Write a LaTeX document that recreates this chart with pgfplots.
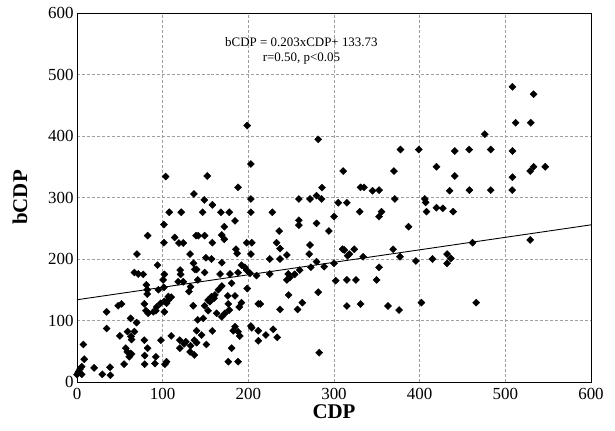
\documentclass[border=0pt]{standalone}
\usepackage{fontspec}
\setmainfont{Liberation Serif}
\usepackage{pgfplots}
\pgfplotsset{compat=1.18}
\usepackage{pgfplotstable}
\pgfplotstableread{
x y
136.5 305.7
107.7 276
121.7 276
101.5 256
82.5 238
114 235
119 226
124 226
139 238
101.5 226.5
70 208
132 208
94 190
67 178
71.5 175.6
77.4 175
102 175
100.5 166
120.5 182
121 175
124 163
118 163
141 166
132.6 155
130.7 147
81 158
82 150
82 143
95 150
101.5 154
106.6 139
110 138
52 127
48 124
34.6 114
78.6 127
80.5 116
83 112
89 114
92 116
93 122
102 114
102 131
97.6 128
104.6 128
106.6 133
135.7 124
62.6 103.5
69.6 96.5
141 101
34.6 87
59 82
67 82
63 74
63.7 69
50 75
78.6 68
82.4 55
98 68
110 75
120 68
125 62
127 65.5
132.6 59
137 68
139.6 64
7.4 61
57 55
58.7 49
62 46.6
63.7 45.5
61 41
79 43
92 41
120 55
132 49
137 44
8.5 37
55 29
79 29
91 30
104.6 33
102.7 29
5.5 25
3.5 21
20 23
38.5 24
1.5 15
5.5 12.5
29.5 12.5
39 11
0 12
2 17
188 316.5
148.6 296
158 288
203 297.6
146.6 276
168 276
177.7 276
203 276
228 276
184.4 262
172 252.5
236 245.5
259 263
259 255
279.6 258
259 297.6
272 297.6
279.6 303
141.6 238
149 238
169 239
172 232
158 226.5
198 226.5
204 226.5
203 208
233 226.5
237 217
185.5 216
187 209
271 208
272 222.8
225 200
237 200
245 206.5
150.5 202
157 200
136 193
137.5 183
139.6 183
149 178
169 194
167 175.6
178.6 175.6
188 177.7
192 190
196 186.5
198 182
202 176.7
209.6 173
225 175.6
246.6 175.6
248.5 170
254 175
260 182
273 186.5
279.6 195.6
245 166
180.5 160.5
169 156
165 150
161 141.5
157 138.7
153 133
149 124
160 136
155 130.6
176 140
184.4 140
192 129
189.4 122
176.6 127
177.7 117
172.7 111.7
169 106
163 111.7
153 116
198.7 152
211.6 127
214 127
247 141.5
263 129
257.5 118
237 118
281.6 146
147.4 103.5
158 83
139.6 83.4
145.4 76.4
151 61
184.4 90
182.4 83.4
188 81.8
190 74.8
203 91
204 88
211.6 83.4
211.6 67
220.5 76.4
229 85.7
233.7 72.7
180.5 55
176.6 33
188 33
282.7 47.6
286 316
331 316.5
335 316.5
345 311
352.6 312
371 297.6
406 297.6
407 292
408 277
419.6 283.4
427 282.4
435 311
285.5 297.6
305 291.5
315 291.5
330 277
355.5 277
352.6 269
300 269
294 245.5
387 252.5
288.6 187.5
300 193
310 216
312 214.6
318 208
316 205.4
323.6 215.8
334 203.7
369 215.8
377 203.7
352.6 186.5
395.6 196.7
415 200
432 208
432 193
302 164.7
315 166
325.6 166
349.7 166
315 123.6
331 126.8
363 123.6
376 117
402 129
458 312
483 312
508 312
439 277
461.7 226.5
529 231
436.4 201
466 129
103.5 334
152 335
198.7 417
203 354.5
281.6 394.6
508.3 480
533 468
512 421.6
529.7 421.6
476 403
377.6 378
399 378
441 375.6
457.8 378
483 378
508.3 375.6
310.7 343
370 343
419.6 350
441 335
508.3 333
529 343
533 350
546.6 350
}\scatterdata
\begin{document}
\begin{tikzpicture}
\begin{axis}[name=ax,
  scale only axis, width=514bp, height=369bp,
  xmin=0, xmax=600, ymin=0, ymax=600,
  xtick={0,100,...,600}, ytick={0,100,...,600},
  grid=major,
  major grid style={gray!75, line width=0.5pt, dash pattern=on 3pt off 2pt},
  axis line style={black, line width=0.9pt},
  major tick length=0pt,
  /pgf/number format/assume math mode=true,
  tick label style={font=\fontsize{17}{17}\selectfont},
  xticklabel style={yshift=-3bp},
  xlabel={CDP}, ylabel={bCDP},
  label style={font=\fontsize{21}{21}\selectfont\bfseries},
  xlabel style={yshift=2bp},
  ylabel style={yshift=14bp},
  clip=false,
]
\addplot[only marks, mark=square*, mark size=2.5bp, mark options={rotate=45, black, fill=black}] table {\scatterdata};
\addplot[black, line width=0.9pt, no marks] coordinates {(0,133.73) (600,255.53)};
\node[font=\fontsize{13}{15}\selectfont, align=center] at (axis cs:262,538) {bCDP = 0.203xCDP+ 133.73\\r=0.50, p<0.05};
\end{axis}
\pgfresetboundingbox
\path[use as bounding box] (ax.south west) ++(-77bp,-49bp) rectangle ++(615bp,431bp);
\end{tikzpicture}
\end{document}
